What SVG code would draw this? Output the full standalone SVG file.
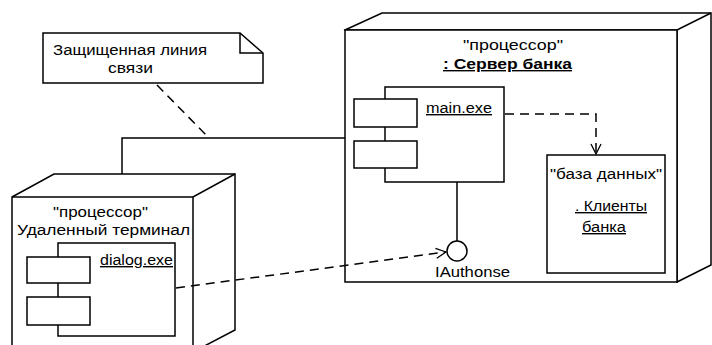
<svg xmlns="http://www.w3.org/2000/svg" width="712" height="345" viewBox="0 0 712 345">
<style>
.s{fill:#fff;stroke:#000;stroke-width:1.5}
.n{fill:none;stroke:#000;stroke-width:1.5}
.d{fill:none;stroke:#000;stroke-width:1.5;stroke-dasharray:9,6}
.t{font-family:"Liberation Sans",Arial,sans-serif;font-size:14px;fill:#000}
.u{text-decoration:underline}
.b{font-weight:bold}
</style>
<defs>
<marker id="open" viewBox="0 0 12 12" refX="11" refY="6" markerWidth="12" markerHeight="12" markerUnits="userSpaceOnUse" orient="auto">
<path d="M1,1 L11,6 L1,11" fill="none" stroke="#000" stroke-width="1.3"/>
</marker>
</defs>
<rect width="712" height="345" fill="#fff"/>
<g id="note">
<path class="s" d="M43,33 H240 L263,53 V83 H43 Z"/>
<path class="n" d="M240,33 V53 H263"/>
<text class="t" x="53" y="55" textLength="154" lengthAdjust="spacingAndGlyphs">Защищенная линия</text>
<text class="t" x="108" y="73" textLength="45" lengthAdjust="spacingAndGlyphs">связи</text>
</g>
<g id="server">
<path class="s" d="M345,30 L382,13 H711 V265 L677,282 Z"/>
<path class="n" d="M345,30 H677 L711,13 M677,30 V282"/>
<rect class="s" x="345" y="30" width="332" height="252"/>
<text class="t" x="463" y="50" textLength="100" lengthAdjust="spacingAndGlyphs">"процессор"</text>
<text class="t b u" x="443" y="69" textLength="129" lengthAdjust="spacingAndGlyphs">: Сервер банка</text>
</g>
<g id="main_exe">
<rect class="s" x="385" y="87" width="119" height="95"/>
<rect class="s" x="354" y="99" width="63" height="28"/>
<rect class="s" x="354" y="141" width="63" height="27"/>
<text class="t u" x="426" y="113" textLength="66" lengthAdjust="spacingAndGlyphs">main.exe</text>
</g>
<g id="database">
<rect class="s" x="547" y="155" width="118" height="118"/>
<text class="t" x="550" y="179" textLength="112" lengthAdjust="spacingAndGlyphs">"база данных"</text>
<text class="t u" x="575" y="211" textLength="72" lengthAdjust="spacingAndGlyphs">. Клиенты</text>
<text class="t u" x="582" y="232" textLength="44" lengthAdjust="spacingAndGlyphs">банка</text>
</g>
<g id="iauthorise">
<circle class="s" cx="457" cy="251" r="10"/>
<text class="t" x="435" y="277" textLength="75" lengthAdjust="spacingAndGlyphs">IAuthonse</text>
</g>
<g id="terminal">
<path class="s" d="M12,197 L54,174 H235 V330 L193,352 H12 Z"/>
<path class="n" d="M12,197 H193 L235,174 M193,197 V352"/>
<text class="t" x="53" y="217" textLength="95" lengthAdjust="spacingAndGlyphs">"процессор"</text>
<text class="t" x="17" y="235" textLength="173" lengthAdjust="spacingAndGlyphs">Удаленный терминал</text>
</g>
<g id="dialog_exe">
<rect class="s" x="58" y="243" width="117" height="93"/>
<rect class="s" x="27" y="257" width="63" height="26"/>
<rect class="s" x="27" y="297" width="63" height="28"/>
<text class="t u" x="100" y="265" textLength="73" lengthAdjust="spacingAndGlyphs">dialog.exe</text>
</g>
<g id="connectors">
<polyline class="n" points="122,174 122,138 345,138"/>
<line class="d" x1="157" y1="85" x2="208" y2="137"/>
<polyline class="d" points="505,114 596,114 596,154" marker-end="url(#open)"/>
<line class="n" x1="457" y1="182" x2="457" y2="241"/>
<line class="d" x1="176" y1="288" x2="446" y2="252" marker-end="url(#open)"/>
</g>
</svg>
